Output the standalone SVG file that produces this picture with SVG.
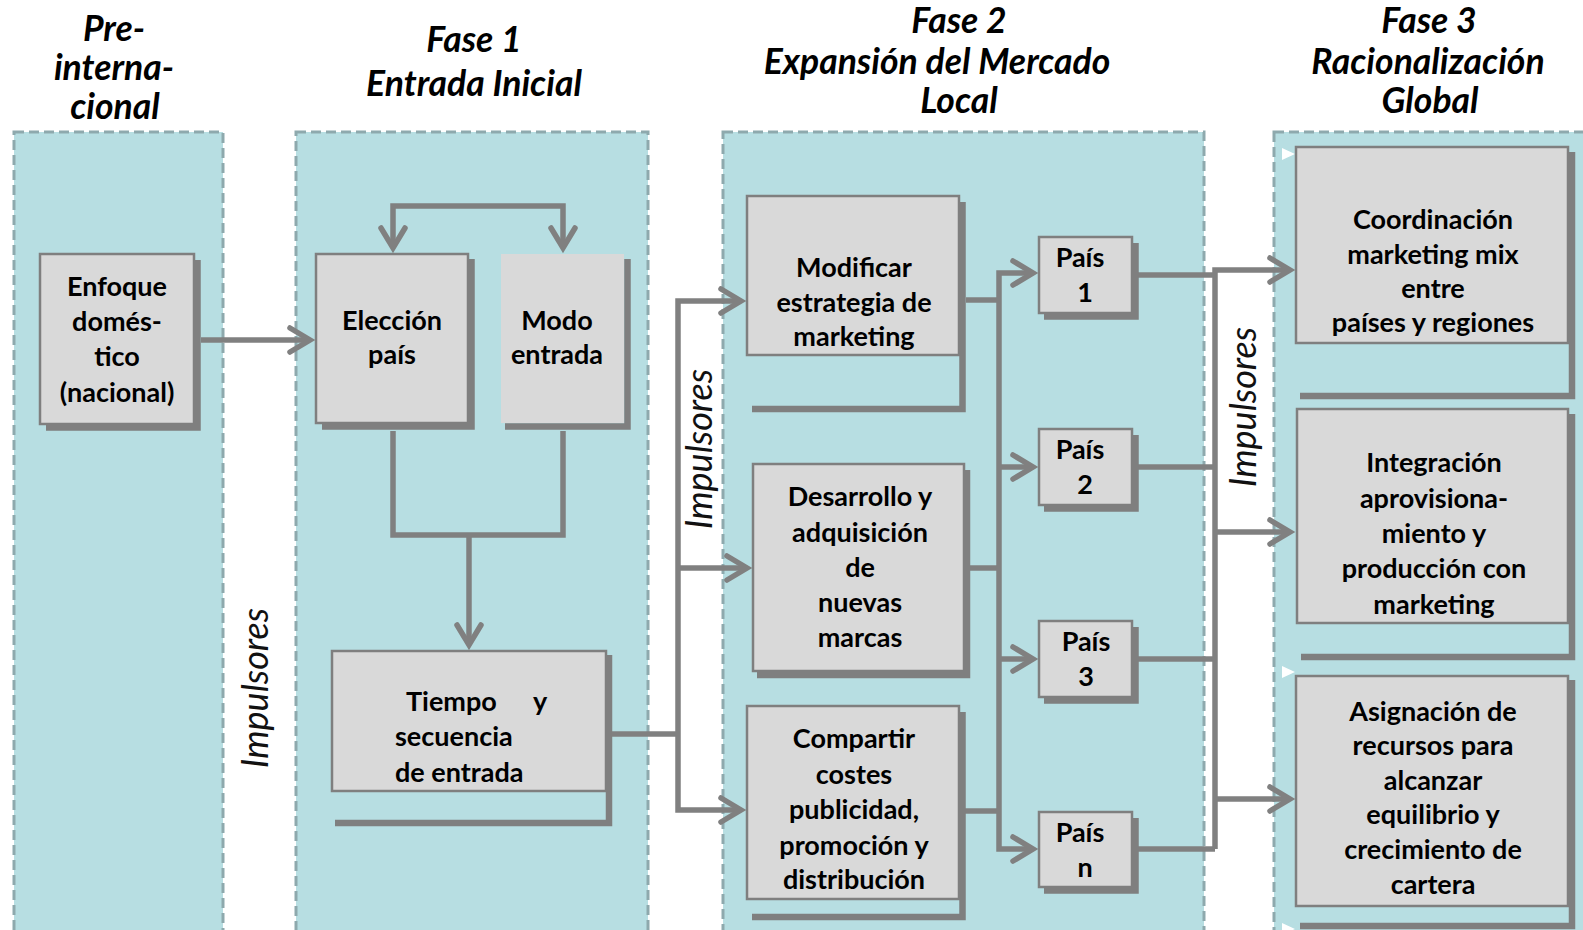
<svg xmlns="http://www.w3.org/2000/svg" width="1583" height="930" viewBox="0 0 1583 930">
<style>
.panel{fill:#b7dee2;stroke:#8ea9ad;stroke-width:3;stroke-dasharray:10 5}
.box{fill:#d9d9d9;stroke:#7f7f7f;stroke-width:2.5}
.boxnb{fill:#d9d9d9;stroke:none}
.sh{fill:none;stroke:#7f7f7f;stroke-width:6.5;stroke-linejoin:miter}
.bt{font-family:Lato,"Liberation Sans",sans-serif;font-weight:bold;font-size:27px;fill:#000;text-anchor:middle}
.btl{font-family:Lato,"Liberation Sans",sans-serif;font-weight:bold;font-size:27px;fill:#000}
.hd{font-family:Lato,"Liberation Sans",sans-serif;font-weight:bold;font-style:italic;font-size:35.5px;fill:#000;text-anchor:middle}
.im{font-family:Lato,"Liberation Sans",sans-serif;font-style:italic;font-size:36px;fill:#111;text-anchor:middle}
.cn{fill:none;stroke:#808080;stroke-width:5.5;stroke-linejoin:miter}
.ca{fill:none;stroke:#808080;stroke-width:5.5;stroke-linejoin:miter;marker-end:url(#arr)}
</style>
<defs>
<marker id="arr" markerUnits="userSpaceOnUse" viewBox="-26 -16 32 32" refX="0" refY="0" markerWidth="32" markerHeight="32" orient="auto" overflow="visible">
<path d="M-20,-12 L0,0 L-20,12" fill="none" stroke="#808080" stroke-width="5.5" stroke-linecap="round" stroke-linejoin="miter"/>
</marker>
</defs>
<rect width="1583" height="930" fill="#fff"/>
<g id="panels">
<rect class="panel" x="14" y="132" width="209" height="820"/>
<rect class="panel" x="296" y="132" width="352" height="820"/>
<rect class="panel" x="723" y="132" width="481" height="820"/>
<rect class="panel" x="1274" y="132" width="340" height="820"/>
<polygon points="1282,148 1295,154 1282,160" fill="#fff"/>
<polygon points="1282,666 1295,672 1282,678" fill="#fff"/>
<polygon points="1282,923 1295,929 1282,935" fill="#fff"/>
</g>
<g id="headers">
<text class="hd"><tspan x="114" y="41">Pre-</tspan><tspan x="114" y="80">interna-</tspan><tspan x="115" y="119">cional</tspan></text>
<text class="hd"><tspan x="474" y="52">Fase 1</tspan><tspan x="474" y="96">Entrada Inicial</tspan></text>
<text class="hd"><tspan x="959" y="33">Fase 2</tspan><tspan x="937" y="74">Expansión del Mercado</tspan><tspan x="959" y="113">Local</tspan></text>
<text class="hd"><tspan x="1429" y="33">Fase 3</tspan><tspan x="1428" y="74">Racionalización</tspan><tspan x="1430" y="113">Global</tspan></text>
</g>
<g id="impulsores">
<text class="im" transform="translate(268,688) rotate(-90)">Impulsores</text>
<text class="im" transform="translate(712,449) rotate(-90)">Impulsores</text>
<text class="im" transform="translate(1256,407) rotate(-90)">Impulsores</text>
</g>
<g id="connectors">
<path class="ca" d="M201,340 H310"/>
<path class="ca" d="M478,206 H393 V248"/>
<path class="ca" d="M478,206 H563 V248"/>
<path class="cn" d="M393,431 V535 H563 V431"/>
<path class="ca" d="M469,535 V645"/>
<path class="cn" d="M612,734 H678"/>
<path class="ca" d="M678,734 V301 H741"/>
<path class="ca" d="M678,734 V810 H741"/>
<path class="ca" d="M678,568 H747"/>
<path class="cn" d="M966,300 H999"/>
<path class="cn" d="M970,568 H999"/>
<path class="cn" d="M965,811 H999"/>
<path class="ca" d="M999,568 V273 H1033"/>
<path class="ca" d="M999,568 V849 H1033"/>
<path class="ca" d="M999,467 H1033"/>
<path class="ca" d="M999,659 H1033"/>
<path class="cn" d="M1138,275 H1215"/>
<path class="cn" d="M1138,467 H1215"/>
<path class="cn" d="M1138,659 H1215"/>
<path class="cn" d="M1138,849 H1215"/>
<path class="ca" d="M1215,532 V270 H1290"/>
<path class="ca" d="M1215,532 H1290"/>
<path class="ca" d="M1215,532 V849 M1215,799 H1290"/>
</g>
<g id="enfoque">
<path class="sh" d="M197.5,260 V427.5 H46"/>
<rect class="box" x="40" y="254" width="154" height="170"/>
<text class="bt"><tspan x="117" y="296">Enfoque</tspan><tspan x="117" y="331">domés-</tspan><tspan x="117" y="366">tico</tspan><tspan x="117" y="402">(nacional)</tspan></text>
</g>
<g id="eleccion">
<path class="sh" d="M471.5,259 V426.5 H322"/>
<rect class="box" x="316" y="254" width="152" height="169"/>
<text class="bt"><tspan x="392" y="330">Elección</tspan><tspan x="392" y="364">país</tspan></text>
</g>
<g id="modo">
<path class="sh" d="M627.5,259 V426.5 H505"/>
<rect class="boxnb" x="501" y="254" width="123" height="169"/>
<text class="bt"><tspan x="557" y="330">Modo</tspan><tspan x="557" y="364">entrada</tspan></text>
</g>
<g id="tiempo">
<path class="sh" d="M609,655 V823 H335"/>
<rect class="box" x="332" y="651" width="274" height="140"/>
<text class="btl"><tspan x="406" y="711">Tiempo</tspan><tspan x="533" y="711">y</tspan><tspan x="395" y="746">secuencia</tspan><tspan x="395" y="782">de entrada</tspan></text>
</g>
<g id="modificar">
<path class="sh" d="M962.5,202 V409 H752"/>
<rect class="box" x="747" y="196" width="212" height="159"/>
<text class="bt"><tspan x="854" y="277">Modificar</tspan><tspan x="854" y="312">estrategia de</tspan><tspan x="854" y="346">marketing</tspan></text>
</g>
<g id="desarrollo">
<path class="sh" d="M967,470 V675 H757"/>
<rect class="box" x="753" y="464" width="211" height="207"/>
<text class="bt"><tspan x="860" y="506">Desarrollo y</tspan><tspan x="860" y="542">adquisición</tspan><tspan x="860" y="577">de</tspan><tspan x="860" y="612">nuevas</tspan><tspan x="860" y="647">marcas</tspan></text>
</g>
<g id="compartir">
<path class="sh" d="M962.5,712 V917 H752"/>
<rect class="box" x="747" y="706" width="212" height="193"/>
<text class="bt"><tspan x="854" y="748">Compartir</tspan><tspan x="854" y="784">costes</tspan><tspan x="854" y="819">publicidad,</tspan><tspan x="854" y="855">promoción y</tspan><tspan x="854" y="889">distribución</tspan></text>
</g>
<g id="pais1">
<path class="sh" d="M1135.5,243 V316.5 H1044"/>
<rect class="box" x="1039" y="237" width="93" height="76"/>
<text class="bt"><tspan x="1080" y="267">País</tspan><tspan x="1085" y="302">1</tspan></text>
</g>
<g id="pais2">
<path class="sh" d="M1135.5,435 V508.5 H1044"/>
<rect class="box" x="1039" y="429" width="93" height="76"/>
<text class="bt"><tspan x="1080" y="459">País</tspan><tspan x="1085" y="494">2</tspan></text>
</g>
<g id="pais3">
<path class="sh" d="M1135.5,627 V700.5 H1044"/>
<rect class="box" x="1039" y="621" width="93" height="76"/>
<text class="bt"><tspan x="1086" y="651">País</tspan><tspan x="1086" y="686">3</tspan></text>
</g>
<g id="paisn">
<path class="sh" d="M1135.5,818 V890.5 H1044"/>
<rect class="box" x="1039" y="812" width="93" height="75"/>
<text class="bt"><tspan x="1080" y="842">País</tspan><tspan x="1085" y="877">n</tspan></text>
</g>
<g id="coordinacion">
<path class="sh" d="M1572,152 V396 H1300"/>
<rect class="box" x="1296" y="147" width="272" height="196"/>
<text class="bt"><tspan x="1433" y="229">Coordinación</tspan><tspan x="1433" y="264">marketing mix</tspan><tspan x="1433" y="298">entre</tspan><tspan x="1433" y="332">países y regiones</tspan></text>
</g>
<g id="integracion">
<path class="sh" d="M1572,414 V657 H1301"/>
<rect class="box" x="1297" y="409" width="271" height="214"/>
<text class="bt"><tspan x="1434" y="472">Integración</tspan><tspan x="1434" y="508">aprovisiona-</tspan><tspan x="1434" y="543">miento y</tspan><tspan x="1434" y="578">producción con</tspan><tspan x="1434" y="614">marketing</tspan></text>
</g>
<g id="asignacion">
<path class="sh" d="M1572,680 V926 H1300"/>
<rect class="box" x="1296" y="676" width="272" height="230"/>
<text class="bt"><tspan x="1433" y="721">Asignación de</tspan><tspan x="1433" y="755">recursos para</tspan><tspan x="1433" y="790">alcanzar</tspan><tspan x="1433" y="824">equilibrio y</tspan><tspan x="1433" y="859">crecimiento de</tspan><tspan x="1433" y="894">cartera</tspan></text>
</g>
</svg>
